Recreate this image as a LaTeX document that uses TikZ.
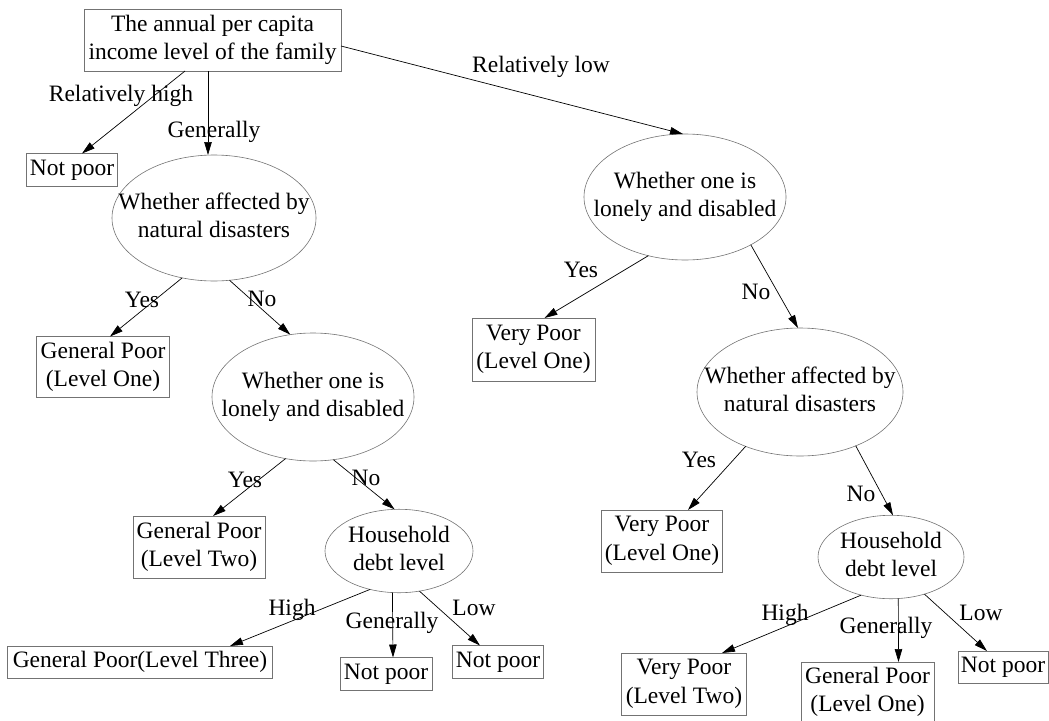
\documentclass[tikz,border=0pt]{standalone}
\usepackage{fontspec}
\setmainfont{Liberation Serif}
\usetikzlibrary{arrows.meta,shapes.geometric}
\newcommand{\twol}[2]{\makebox[0pt]{\begin{tabular}{@{}c@{}}#1\\#2\end{tabular}}}
\begin{document}
\begin{tikzpicture}[x=1pt,y=-1pt,
  every node/.style={font=\fontsize{23.5}{28.5}\selectfont, inner sep=1pt, outer sep=0pt},
  leaf/.style={draw=black!55, line width=0.6pt, rectangle, align=center},
  test/.style={draw=black!55, line width=0.6pt, ellipse},
  lbl/.style={anchor=base},
  conn/.style={draw=black, line width=0.7pt, -{Triangle[length=13pt,width=7.5pt]}}]
\useasboundingbox (0,0) rectangle (1049,720);
% nodes
\node[leaf, minimum width=257pt, minimum height=62pt] (root) at (212.5,40) {The annual per capita\\income level of the family};
\node[leaf, minimum width=91pt, minimum height=33pt] (np1) at (72,170) {Not poor};
\node[test, minimum width=204pt, minimum height=126pt] (ell1) at (214,218) {\twol{Whether affected by}{natural disasters}};
\node[leaf, minimum width=133pt, minimum height=61pt] (gp1) at (103,367) {General Poor\\(Level One)};
\node[test, minimum width=202pt, minimum height=128pt] (ellL2) at (313,397) {\twol{Whether one is}{lonely and disabled}};
\node[leaf, minimum width=132pt, minimum height=62pt] (gp2) at (199,547) {General Poor\\(Level Two)};
\node[test, minimum width=148pt, minimum height=78pt] (houseL) at (399,551) {\twol{Household}{debt level}};
\node[leaf, minimum width=265pt, minimum height=32pt] (gp3) at (140,662) {General Poor(Level Three)};
\node[leaf, minimum width=92pt, minimum height=33pt] (npm) at (386,674) {Not poor};
\node[leaf, minimum width=91pt, minimum height=33pt] (npr) at (498,662) {Not poor};
\node[test, minimum width=202pt, minimum height=126pt] (R1) at (685,197) {\twol{Whether one is}{lonely and disabled}};
\node[leaf, minimum width=123pt, minimum height=63pt] (vp1) at (533.5,349.5) {Very Poor\\(Level One)};
\node[test, minimum width=206pt, minimum height=128pt] (R2) at (800,392) {\twol{Whether affected by}{natural disasters}};
\node[leaf, minimum width=121pt, minimum height=62pt] (vp1b) at (662,541) {Very Poor\\(Level One)};
\node[test, minimum width=146pt, minimum height=80pt] (houseR) at (891,557) {\twol{Household}{debt level}};
\node[leaf, minimum width=125pt, minimum height=62pt] (vp2) at (684,684) {Very Poor\\(Level Two)};
\node[leaf, minimum width=133pt, minimum height=60pt] (gp1r) at (867.5,692) {General Poor\\(Level One)};
\node[leaf, minimum width=90pt, minimum height=32pt] (npR) at (1003,667) {Not poor};
% connectors
\draw[conn] ([xshift=-27.5pt]root.south) -- ([xshift=10pt]np1.north);
\draw[conn] ([xshift=-4.5pt]root.south) -- ([xshift=-6pt]ell1.north);
\draw[conn] ([yshift=-6pt]root.east) -- ([xshift=-2pt]R1.north);
\draw[conn] (ell1.242) -- ([xshift=7pt]gp1.north);
\draw[conn] (ell1.284) -- (ellL2.110);
\draw[conn] (ellL2.246) -- ([xshift=14pt]gp2.north);
\draw[conn] (ellL2.288) -- (houseL.96);
\draw[conn] (houseL.233) -- ([xshift=90pt]gp3.north);
\draw[conn] (houseL.261) -- ([xshift=7pt]npm.north);
\draw[conn] (houseL.297) -- ([xshift=-18pt]npr.north);
\draw[conn] (R1.238) -- ([xshift=11pt]vp1.north);
\draw[conn] (R1.324) -- ([xshift=-2pt]R2.north);
\draw[conn] (R2.225) -- ([xshift=26pt]vp1b.north);
\draw[conn] (R2.316) -- ([xshift=2pt]houseR.north);
\draw[conn] (houseR.232) -- ([xshift=38pt]vp2.north);
\draw[conn] (houseR.280) -- ([xshift=31pt]gp1r.north);
\draw[conn] (houseR.312) -- ([xshift=-16pt]npR.north);
% labels
\node[lbl] (l1) at (121,101) {Relatively high};
\node[lbl] (l2) at (214,137) {Generally};
\node[lbl] (l3) at (541,72) {Relatively low};
\node[lbl] (l4) at (142,307) {Yes};
\node[lbl] (l5) at (262,306) {No};
\node[lbl] (l6) at (245,487) {Yes};
\node[lbl] (l7) at (366,485) {No};
\node[lbl] (l8) at (292,615) {High};
\node[lbl] (l9) at (392,628) {Generally};
\node[lbl] (l10) at (474,615) {Low};
\node[lbl] (l11) at (581,277) {Yes};
\node[lbl] (l12) at (756,299) {No};
\node[lbl] (l13) at (699,467) {Yes};
\node[lbl] (l14) at (861,501) {No};
\node[lbl] (l15) at (785,620) {High};
\node[lbl] (l16) at (886,633) {Generally};
\node[lbl] (l17) at (981,620) {Low};
\end{tikzpicture}
\end{document}
